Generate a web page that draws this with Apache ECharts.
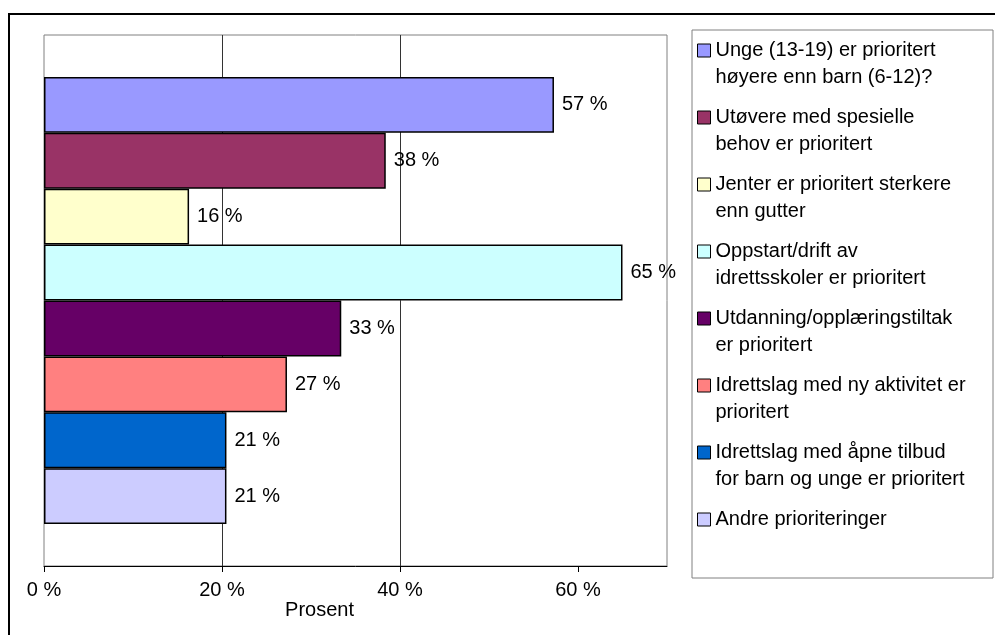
<!DOCTYPE html>
<html>
<head>
<meta charset="utf-8">
<script src="https://cdn.jsdelivr.net/npm/echarts@6/dist/echarts.min.js"></script>
<style>
  html, body { margin: 0; padding: 0; background: #fff; }
  #tu1 { width: 995px; height: 635px; }
</style>
</head>
<body>
<div id="tu1"></div>
<script>
var names = [
    'Unge (13-19) er prioritert\nhøyere enn barn (6-12)?',
    'Utøvere med spesielle\nbehov er prioritert',
    'Jenter er prioritert sterkere\nenn gutter',
    'Oppstart/drift av\nidrettsskoler er prioritert',
    'Utdanning/opplæringstiltak\ner prioritert',
    'Idrettslag med ny aktivitet er\nprioritert',
    'Idrettslag med åpne tilbud\nfor barn og unge er prioritert',
    'Andre prioriteringer'
];
var values = [57.3, 38.4, 16.3, 65.0, 33.4, 27.3, 20.5, 20.5];
var colors = ['#9999FF', '#993366', '#FFFFCC', '#CCFFFF', '#660066', '#FF8080', '#0066CC', '#CCCCFF'];
var xTicks = [0, 20, 40, 60];

var font = 'Liberation Sans, Arial, sans-serif';

var myChart1 = echarts.init(document.getElementById('tu1'));

var series = names.map(function (n, i) {
    return {
        name: n,
        type: 'bar',
        data: [values[i]],
        barGap: '0%',
        barCategoryGap: '15.8%',
        itemStyle: {
            color: colors[i],
            borderColor: '#000',
            borderWidth: 1.5
        },
        label: {
            show: true,
            position: 'right',
            distance: 8,
            color: '#000',
            fontSize: 20,
            fontFamily: font,
            formatter: function (p) { return Math.round(p.value) + ' %'; }
        }
    };
});

// ikonet skal stå ved første linje: rik tekst + ekstra padding over
var legendData = names.map(function (n) {
    var lines = n.split('\n').length;
    return {
        name: n,
        textStyle: { padding: lines > 1 ? [27, 0, 0, 0] : [27, 0, 27, 0] }
    };
});

var option1 = {
    animation: false,
    textStyle: { fontFamily: font },
    graphic: [
        {   // ytre ramme
            type: 'rect',
            shape: { x: 9, y: 14, width: 1100, height: 800 },
            style: { fill: 'none', stroke: '#000', lineWidth: 2 }
        },
        {   // legend-boks
            type: 'rect',
            shape: { x: 692, y: 30, width: 301, height: 548 },
            style: { fill: 'none', stroke: '#808080', lineWidth: 1 }
        }
    ],
    grid: {
        left: 44,
        top: 35,
        right: 328,
        bottom: 69,
        show: true,
        borderColor: '#808080',
        borderWidth: 1
    },
    legend: {
        orient: 'vertical',
        left: 692,
        top: 0,
        padding: [10, 5, 5, 5],
        itemGap: -14,
        itemWidth: 13,
        itemHeight: 13,
        icon: 'rect',
        itemStyle: { borderColor: '#000', borderWidth: 1 },
        formatter: function (name) {
            return name.split('\n').map(function (s) { return '{t|' + s + '}'; }).join('\n');
        },
        textStyle: {
            fontSize: 20,
            fontFamily: font,
            color: '#000',
            lineHeight: 27,
            rich: {
                t: { fontSize: 20, fontFamily: font, color: '#000', lineHeight: 27 }
            }
        },
        data: legendData
    },
    xAxis: {
        type: 'value',
        min: 0,
        max: 70,
        interval: 20,
        name: 'Prosent',
        nameLocation: 'middle',
        nameGap: 34,
        nameMoveOverlap: false,
        nameTextStyle: {
            fontSize: 20,
            fontFamily: font,
            color: '#000',
            padding: [0, 72, 0, 0]
        },
        axisLine: { show: true, lineStyle: { color: '#000', width: 1 } },
        axisTick: { show: true, length: 6, lineStyle: { color: '#000' }, customValues: xTicks },
        axisLabel: {
            margin: 14,
            fontSize: 20,
            fontFamily: font,
            color: '#000',
            customValues: xTicks,
            formatter: '{value} %'
        },
        splitLine: {
            show: true,
            showMinLine: false,
            showMaxLine: false,
            lineStyle: { color: '#333', width: 1 }
        }
    },
    yAxis: {
        type: 'category',
        data: [''],
        axisLine: { show: false },
        axisTick: { show: false },
        axisLabel: { show: false },
        splitLine: { show: false }
    },
    series: series
};

myChart1.setOption(option1);
</script>
</body>
</html>
